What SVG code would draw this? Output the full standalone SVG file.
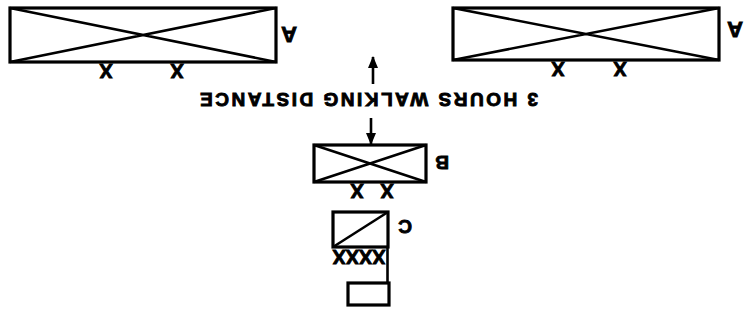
<svg xmlns="http://www.w3.org/2000/svg" width="754" height="321" viewBox="0 0 754 321">
<defs>
<style>
.box{fill:none;stroke:#000;stroke-width:3.2;stroke-linejoin:miter}
.diag{stroke:#000;stroke-width:2.6;fill:none}
.ln{stroke:#000;stroke-width:2.6;fill:none}
.t{font-family:"Liberation Sans",Arial,sans-serif;font-weight:bold;fill:#000;stroke:#000;stroke-width:0.9;text-anchor:middle}
.x{font-size:20px}
.lab{font-size:22px}
.main{font-size:19px}
</style>
<marker id="ah" viewBox="0 0 12 10" refX="11" refY="5" markerWidth="12" markerHeight="10" markerUnits="userSpaceOnUse" orient="auto">
<path d="M0,0 L12,5 L0,10 Z" fill="#000"/>
</marker>
</defs>
<rect width="754" height="321" fill="#fff"/>

<g id="nodeA1">
<rect class="box" x="10" y="8" width="266" height="54"/>
<path class="diag" d="M10,8 L276,62 M10,62 L276,8"/>
<text class="t x" transform="rotate(180 106 71)" x="106" y="78.2">X</text>
<text class="t x" transform="rotate(180 177 71)" x="177" y="78.2">X</text>
<text class="t lab" transform="rotate(180 289 35)" x="289" y="43">A</text>
</g>

<g id="nodeA2">
<rect class="box" x="453" y="8" width="266" height="52"/>
<path class="diag" d="M453,8 L719,60 M453,60 L719,8"/>
<text class="t x" transform="rotate(180 558 69)" x="558" y="76.2">X</text>
<text class="t x" transform="rotate(180 620 69)" x="620" y="76.2">X</text>
<text class="t lab" transform="rotate(180 735 30)" x="735" y="38">A</text>
</g>

<g id="nodeB">
<rect class="box" x="314" y="145" width="112" height="37"/>
<path class="diag" d="M314,145 L426,182 M314,182 L426,145"/>
<text class="t x" transform="rotate(180 357 191)" x="357" y="198.2">X</text>
<text class="t x" transform="rotate(180 387 191)" x="387" y="198.2">X</text>
<text class="t main" transform="rotate(180 442 163)" x="442" y="169.8">B</text>
</g>

<g id="nodeC">
<rect class="box" x="333" y="212" width="55" height="35"/>
<path class="diag" d="M333,247 L388,212"/>
<text class="t x" transform="rotate(180 359 257)" x="359" y="264.2" textLength="53" lengthAdjust="spacingAndGlyphs">XXXX</text>
<text class="t main" transform="rotate(180 405 227)" x="405" y="233.8">C</text>
</g>

<g id="nodeD">
<rect class="box" x="348" y="283" width="41" height="22"/>
</g>

<g id="connectors">
<line class="ln" x1="373" y1="84" x2="373" y2="57" marker-end="url(#ah)"/>
<line class="ln" x1="371" y1="118" x2="371" y2="144" marker-end="url(#ah)"/>
<line class="ln" x1="387.5" y1="247" x2="387.5" y2="283"/>
</g>

<g id="label">
<text class="t main" transform="rotate(180 369 100)" x="369" y="106.8" textLength="338" lengthAdjust="spacing">3 HOURS WALKING DISTANCE</text>
</g>
</svg>
